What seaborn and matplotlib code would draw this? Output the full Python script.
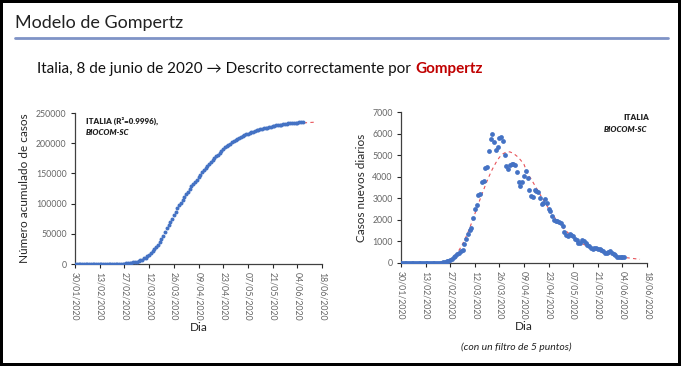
import numpy as np
import pandas as pd
import matplotlib
matplotlib.use("Agg")
import matplotlib.pyplot as plt
from matplotlib.patches import Rectangle
import seaborn as sns

# Day 0 = 30/01/2020
tick_days = [0, 14, 28, 42, 56, 70, 84, 98, 112, 126, 140]
tick_labels = ['30/01/2020', '13/02/2020', '27/02/2020', '12/03/2020', '26/03/2020',
               '09/04/2020', '23/04/2020', '07/05/2020', '21/05/2020', '04/06/2020',
               '18/06/2020']

# Cumulative cases (left panel), one value per day from 30/01
cumulative = [0] * 22 + [
    20, 79, 150, 229, 322, 400, 650, 888, 1128, 1694,
    2036, 2502, 3089, 3858, 4636, 5883, 7375, 9172, 10149, 12462,
    15113, 17660, 21157, 24747, 27980, 31506, 35713, 41035, 47021, 53578,
    59138, 63927, 69176, 74386, 80539, 86498, 92472, 97689, 101739, 105792,
    110574, 115242, 119827, 124632, 128948, 132547, 135586, 139422, 143626, 147577,
    152271, 156363, 159516, 162488, 165155, 168941, 172434, 175925, 178972, 181228,
    183957, 187327, 189973, 192994, 195351, 197675, 199414, 201505, 203591, 205463,
    207428, 209328, 210717, 211938, 213013, 214457, 215858, 217185, 218268, 219070,
    219814, 221216, 222104, 223096, 223885, 224760, 225435, 225886, 226699, 227364,
    228006, 228658, 229327, 229858, 230158, 230555, 231139, 231732, 232248, 232664,
    232997, 233197, 233515, 233836, 234013, 234531, 234801, 234998]

fit_cum_days = [100, 104, 108, 112, 116, 120, 124, 128, 132, 136]
fit_cum = [218000, 222000, 225000, 227500, 229500, 231000, 232300, 233300, 234100, 234800]

# Daily new cases, 5-point filter (right panel)
daily = [0] * 22 + [
    10, 20, 30, 50, 70, 100, 130, 200, 260, 320,
    400, 450, 550, 620, 900, 1100, 1350, 1550, 1600, 2100,
    2500, 2700, 3150, 3200, 3750, 3800, 4400, 4450, 5200, 5750,
    6000, 5600, 5250, 5400, 5800, 5850, 5650, 5000, 4500, 4350,
    4550, 4600, 4600, 4550, 4200, 3750, 3550, 3750, 4050, 4250,
    3950, 3400, 3100, 3050, 3400, 3350, 3300, 3000, 2750, 2800,
    2950, 2800, 2500, 2400, 2200, 2000, 1950, 1950, 1900, 1850,
    1700, 1450, 1300, 1250, 1350, 1300, 1250, 1100, 1050, 950,
    950, 1050, 1000, 950, 850, 800, 700, 650, 700, 680,
    650, 650, 600, 550, 450, 480, 520, 550, 480, 420,
    350, 300, 300, 280, 290, 260]

fit_days = [24, 26, 28, 30, 32, 34, 36, 38, 40, 42, 44, 46, 48, 50, 52, 54, 56, 58,
            60, 62, 64, 66, 68, 70, 72, 74, 76, 78, 80, 82, 84, 86, 88, 90, 92, 94,
            96, 98, 100, 102, 104, 106, 108, 110, 112, 114, 116, 118, 120, 122, 124,
            126, 128, 130, 132, 134, 136]
fit_daily = [30, 80, 160, 290, 470, 720, 1030, 1400, 1820, 2270, 2730, 3180, 3600,
             4000, 4350, 4650, 4900, 5060, 5150, 5150, 5080, 4950, 4780, 4570, 4150,
             3900, 3620, 3340, 3060, 2790, 2530, 2280, 2050, 1840, 1650, 1480, 1330,
             1190, 1070, 960, 860, 780, 700, 630, 570, 510, 460, 420, 380, 340, 310,
             280, 250, 230, 210, 190, 170]

df_cum = pd.DataFrame({'day': np.arange(len(cumulative)), 'casos': cumulative})
df_daily = pd.DataFrame({'day': np.arange(len(daily)), 'casos': daily})

sns.set_style("white")
plt.rcParams['font.family'] = ['Lato', 'DejaVu Sans']

W, H = 681, 366
fig = plt.figure(figsize=(W / 100, H / 100), dpi=100)
fig.patch.set_facecolor('black')
fig.patches.append(Rectangle((3 / W, 3 / H), 675 / W, 360 / H, transform=fig.transFigure,
                             facecolor='white', edgecolor='none', zorder=-10))

BLUE = '#4472C4'
RED = '#E8535A'
GREY = '#666666'

# Slide title and header line
fig.text(15 / W, 1 - 23 / H, 'Modelo de Gompertz', fontsize=13, color='#222222', va='center')
fig.add_artist(plt.Line2D([15 / W, 668 / W], [1 - 37.5 / H, 1 - 37.5 / H],
                          color='#7F93C6', lw=2, transform=fig.transFigure))
t1 = fig.text(37 / W, 1 - 73 / H, 'Italia, 8 de junio de 2020 \u2192 Descrito correctamente por ',
              fontsize=11, color='#111111', va='baseline')
fig.canvas.draw()
bb = t1.get_window_extent()
fig.text(bb.x1 / W + 1 / W, 1 - 73 / H, 'Gompertz', fontsize=11, color='#C00000',
         fontweight='bold', va='baseline')


def style_axes(ax, ymax, ystep):
    ax.set_xlim(0, 140)
    ax.set_ylim(0, ymax)
    ax.set_xticks(tick_days)
    ax.set_xticklabels(tick_labels, rotation=-90, fontsize=6.3, color=GREY)
    ax.set_yticks(np.arange(0, ymax + 1, ystep))
    ax.tick_params(axis='y', labelsize=6.3, labelcolor=GREY, length=3, width=0.8,
                   direction='out', left=True, pad=3)
    ax.tick_params(axis='x', length=3, width=0.8, direction='out', bottom=True, pad=3)
    for s in ['top', 'right']:
        ax.spines[s].set_visible(False)
    for s in ['left', 'bottom']:
        ax.spines[s].set_color('#404040')
        ax.spines[s].set_linewidth(0.9)
    ax.set_facecolor('white')
    ax.set_xlabel('Dia', fontsize=8.5, labelpad=1)


# Left panel: cumulative cases
ax1 = fig.add_axes([75 / W, (H - 264) / H, 247 / W, 151 / H])
sns.lineplot(x=fit_cum_days, y=fit_cum, ax=ax1, color=RED, lw=0.8, zorder=2)
ax1.lines[-1].set_linestyle((0, (3, 3)))
sns.scatterplot(data=df_cum, x='day', y='casos', ax=ax1, color=BLUE, s=8, linewidth=0,
                zorder=3)
style_axes(ax1, 250000, 50000)
ax1.set_ylabel('Número acumulado de casos', fontsize=8.5, labelpad=4)
ax1.text(0.045, 0.975, 'ITALIA (R²=0.9996),', transform=ax1.transAxes, fontsize=5.8,
         fontweight='heavy', va='top', color='#222222')
ax1.text(0.045, 0.895, 'BIOCOM-SC', transform=ax1.transAxes, fontsize=5.8,
         fontweight='heavy', style='italic', va='top', color='#222222')

# Right panel: daily new cases
ax2 = fig.add_axes([401 / W, (H - 263) / H, 246 / W, 151 / H])
sns.lineplot(x=fit_days, y=fit_daily, ax=ax2, color=RED, lw=0.8, zorder=2)
ax2.lines[-1].set_linestyle((0, (3, 3)))
sns.scatterplot(data=df_daily, x='day', y='casos', ax=ax2, color=BLUE, s=12, linewidth=0,
                zorder=3)
style_axes(ax2, 7000, 1000)
ax2.set_ylabel('Casos nuevos diarios', fontsize=8.5, labelpad=4)
ax2.text(1.01, 0.985, 'ITALIA', transform=ax2.transAxes, fontsize=5.8,
         fontweight='heavy', va='top', ha='right', color='#222222')
ax2.text(1.0, 0.905, 'BIOCOM-SC', transform=ax2.transAxes, fontsize=5.8,
         fontweight='heavy', style='italic', va='top', ha='right', color='#222222')

fig.text(516 / W, 1 - 347 / H, '(con un filtro de 5 puntos)', fontsize=7.5, style='italic',
         ha='center', va='center', color='#222222')

fig.savefig('out.png', dpi=100, facecolor=fig.get_facecolor())
